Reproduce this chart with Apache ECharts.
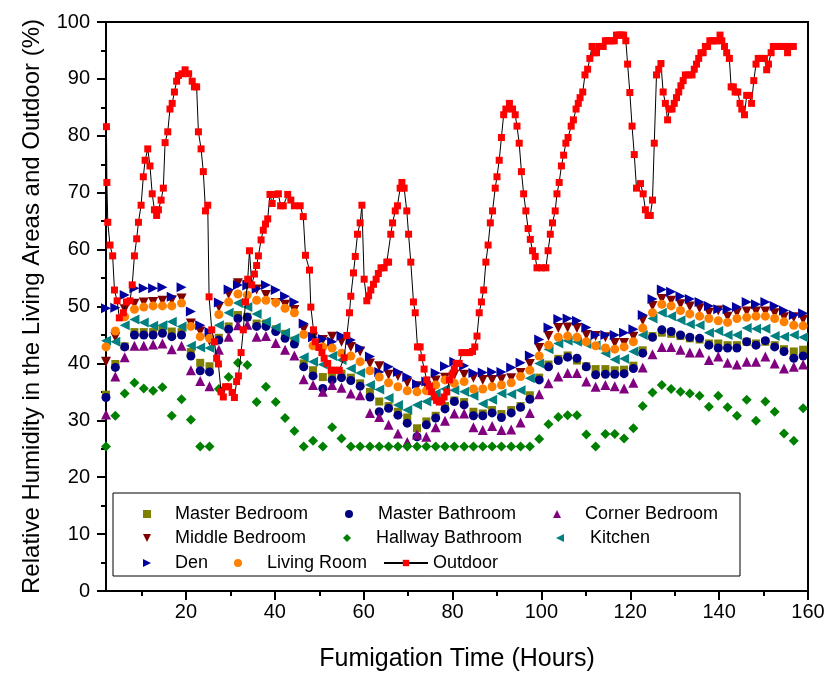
<!DOCTYPE html>
<html>
<head>
<meta charset="utf-8">
<script src="https://cdn.jsdelivr.net/npm/echarts@6/dist/echarts.min.js"></script>
<style>
  html, body { margin: 0; padding: 0; background: #fff; }
  #chart { width: 827px; height: 673px; }
</style>
</head>
<body>
<div id="chart"></div>
<script>
// indoor sensors, logged about every 2.1 h
const hours = [2.0,4.1,6.2,8.4,10.5,12.6,14.7,16.8,19.0,21.1,23.2,25.3,27.4,29.6,31.7,33.8,35.9,38.0,40.2,42.3,44.4,46.5,48.6,50.8,52.9,55.0,57.1,59.2,61.4,63.5,65.6,67.7,69.8,72.0,74.1,76.2,78.3,80.4,82.6,84.7,86.8,88.9,91.0,93.2,95.3,97.4,99.5,101.6,103.8,105.9,108.0,110.1,112.2,114.4,116.5,118.6,120.7,122.8,125.0,127.1,129.2,131.3,133.4,135.6,137.7,139.8,141.9,144.0,146.2,148.3,150.4,152.5,154.6,156.8,158.9];

const masterBedroom = [34.5,39.9,43,45.5,45.5,45.5,46,45.6,45.5,42, 40.1,39.5,44.5,46.5,48.5,48.2,47,47,46,45.2, 44,40,38.8,37.6,37.8,38.2,37.5,36.5,35,33.3, 32.5,31.5,30.5,28.6,29.8,30.8,32.5,33.5,33.2,31.5, 31.2,31.8,31.1,31.8,32.5,34.4,37.5,39.8,40.8,41.4, 40.5,39.5,39,39,38.8,38.9,39.6,42.3,44.8,45.4, 45.2,44.8,44.4,44.2,43.5,43.5,43.2,43.2,43.8,43.5, 43.8,43.2,42.5,42.1,42.4];
const masterBathroom = [34,39.3,42.9,45,45,45,45.3,44.7,45,41.3, 38.7,38.5,44.1,46,47.9,48.1,46.5,46.5,45.6,44.4, 43.4,39.4,37.8,35.6,37.1,37.5,37,36,34.1,31.5, 32.1,30.9,29.5,27.1,29.2,30.4,32,33.3,32.7,30.8, 30.8,31.3,30.5,31.3,32.3,33.7,37.1,39.4,40.5,41.1, 40.9,39.4,38,38.1,38.1,38.2,39.1,41.8,44.6,45.9, 45.6,45,44.6,44.4,43.2,42.7,42.7,42.7,43.8,43.2, 44,42.9,42.1,40.9,41.3];
const cornerBedroom = [31,37.7,41.1,43.1,43.1,43.3,43.5,42.5,43.1,38.8, 36.9,36,42.4,44.7,46.7,46.8,44.7,44.8,43.6,42.4, 41.4,37.2,36.2,35,36.2,35.7,34.7,34.4,31.3,30.6, 29.2,27.7,26.2,27.5,27.1,28.8,29.9,31.2,31.2,28.8, 28.3,29,28.3,28.4,29.6,31.3,34.6,36.5,37.7,38.3, 38.3,36.8,35.9,36.2,36,35.6,36.6,39.3,41.6,42.9, 42.9,42.4,41.9,41.9,40.6,41.2,40.1,39.8,40.3,40.3, 41.2,40,39.1,39.4,39.8];
const middleBedroom = [40.3,44.6,49.5,50.5,50.7,50.8,51,51.1,51.4,47, 45.6,44,49.9,52.2,54.1,53.8,53,52,50.6,50.3, 49.4,46,44.6,44.1,44.7,43.8,42.9,42.1,40,39.5, 38,37.8,36.6,36,36,37,37.5,38,38,37.5, 37.1,37.1,37.2,37.4,38.3,39.9,42.7,44.8,46.2,46.3, 46.2,45,44.8,44.6,43.6,43.6,44.7,47.6,50.1,51.3, 51,50.4,50,49.7,48.9,49.3,48.2,48.9,49.1,49.1, 49.1,48.8,48.1,48.1,47.7];
const hallwayBathroom = [25.4,30.8,34.7,36.6,35.6,35.2,35.8,30.8,33.7,30.1, 25.4,25.4,35.5,37.6,40.1,39.7,33.2,35.9,33.2,30.4, 28.1,25.4,26.4,25.4,28.8,26.8,25.4,25.4,25.4,25.4, 25.4,25.4,25.4,25.4,25.4,25.4,25.4,25.4,25.4,25.4, 25.4,25.4,25.4,25.4,25.4,25.4,26.7,29.3,30.6,30.9, 30.9,27.5,25.4,27.6,27.6,26.8,28.6,32.5,34.9,36.2, 35.5,35,34.7,34.3,32.4,34.3,32.3,30.8,33.6,29.9, 33.3,31.5,27.7,26.4,32.1];
const kitchen = [44,43.8,46.7,47.7,47.2,46.6,46.7,47.3,46.5,43.1, 42.8,42.7,46.7,48.9,50.6,49.9,48.7,47.3,46.3,45.4, 44.4,41.1,40.3,39.8,41.3,40.6,39.1,38.3,36.2,35.4, 33.9,32.7,31.8,32.7,33.3,34.7,35.5,35.3,35,34.3, 32.9,33.6,34.7,34.6,35.3,37.4,40,42.5,43.5,44, 43.8,43.4,43.2,41.8,40.7,40.8,42.1,45,47.9,48.9, 48.3,47.6,46.9,46.7,45.4,45.7,45,45,46.2,46.1, 46.1,44.8,44.7,45,44.6];
const den = [49.7,49.8,52,53.2,53.2,53.2,53.4,51.7,53.4,49.1, 46.7,45.5,50.7,53,53.8,53.7,53.1,53.8,52.9,51.8, 50.8,47,44.6,44.3,43.8,44.8,44.1,42.7,41.2,38.5, 39.4,38.5,37.6,36.4,36.8,38.3,39.5,40.3,39.6,38.3, 38.4,38.5,38.5,39.3,40.1,41.4,44.2,46.3,47.8,47.9, 47.5,46.3,45,45,45,45.4,46,48.5,51.3,53, 52.6,51.8,51.3,50.8,50.1,49.5,49.5,49.9,50.8,50.4, 50.8,50.1,49.3,48.5,48.8];
const livingRoom = [42.9,45.7,48.2,49.5,49.9,50.1,50.1,50.1,50.6,46.5, 44.7,44.4,48.6,50.8,52.2,52,51.1,51.1,50.7,49.7, 48.9,45.1,43.1,42.9,42.7,41.8,41.3,40.3,38.7,37.6, 36.6,35.9,35.2,35,35.2,36.2,37.1,36.5,36.8,35.5, 35.5,35.9,36.2,36.6,37.7,38.8,41.3,43.2,44.6,44.8, 44.6,43.8,43.1,42.7,42.5,42.9,43.8,46.2,48.9,50.4, 50.1,49.3,48.7,48.3,47.9,47.5,47.2,47.9,48.1,48.3, 48.3,47.9,47.3,46.7,46.6];

// outdoor station, denser logging
const outdoorHours = [2.1,2.2,2.4,2.9,3.5,3.9,4.5,5.0,5.9,6.6,7.4,7.9,8.4,8.9,9.3,9.9,10.4,10.8,11.4,11.9,12.4,12.9,13.4,13.8,14.4,14.9,15.3,15.9,16.4,16.9,17.4,17.9,18.3,19.1,19.8,20.6,21.4,21.9,22.4,22.8,23.4,23.9,24.4,24.9,25.2,25.8,26.4,26.9,27.3,27.9,28.4,28.9,29.6,30.4,30.9,31.4,31.8,32.4,32.9,33.4,33.9,34.3,34.8,35.4,35.9,36.3,36.9,37.4,37.9,38.4,38.9,39.4,39.9,40.8,41.3,41.9,42.9,43.6,44.4,45.7,46.4,46.9,47.8,48.1,48.7,49.1,49.9,50.6,51.1,51.9,52.7,53.6,54.5,55.6,56.2,56.8,57.1,57.7,58.1,58.6,59.2,59.6,60.1,60.7,61.1,61.6,62.2,62.8,63.3,63.9,64.6,65.2,65.6,66.1,66.5,67.1,67.6,68.2,68.6,69.1,69.7,70.1,70.6,71.2,71.6,72.1,72.7,73.1,73.6,74.2,74.8,75.3,75.9,76.4,77.0,77.6,78.1,78.7,79.3,79.9,80.4,80.8,81.5,82.1,83.0,83.8,84.5,85.0,85.5,86.0,86.5,87.0,87.5,88.0,88.5,89.0,89.6,90.0,90.5,91.0,91.5,92.0,92.8,93.5,94.1,94.5,95.0,95.5,96.0,96.5,97.0,97.5,98.0,98.6,99.0,100.0,101.0,101.5,102.0,102.5,103.1,103.5,104.0,104.5,105.0,105.5,106.0,106.7,107.2,107.8,108.3,108.7,109.3,109.8,110.4,110.9,111.4,111.9,112.4,112.9,113.4,113.9,114.4,114.9,115.4,115.9,116.4,116.9,117.5,118.0,118.5,119.0,119.4,119.9,120.4,120.9,121.4,122.3,122.9,123.4,124.0,124.5,125.0,125.4,125.9,126.4,126.9,127.4,127.9,128.4,128.8,129.4,129.9,130.4,130.9,131.4,131.9,132.4,133.1,133.9,134.4,134.9,135.4,135.9,136.4,136.9,137.4,137.9,138.4,138.9,139.4,140.2,140.6,141.2,141.7,142.3,142.7,143.2,143.6,144.2,144.7,145.1,145.7,146.2,146.8,147.3,147.8,148.3,148.8,149.4,150.2,150.7,151.1,151.7,152.2,152.8,153.5,154.3,154.9,155.4,156.0,156.7];
const outdoorRH = [81.6,71.8,64.8,60.8,58.9,52.9,51,48,48.9,50.8,51,53.8,58.9,61.9,64.8,67.8,72.8,75.7,77.7,74.7,69.8,67,66,67,68.7,70.8,78.8,80.7,84.7,85.7,87.7,89.6,90.6,90.9,91.6,90.9,89.6,88.6,88.6,80.7,77.7,73.7,66.8,67.8,51.7,45.9,43.8,40.9,39.9,35,34.1,35.9,35.9,34.9,34,36.8,37.8,41.9,45.9,50.8,54.8,59.8,53.8,55.7,57.2,58.9,61.7,63.4,64.5,65.4,69.7,68.1,69.7,69.8,67.7,67.7,69.7,68.7,67.7,67.7,65.8,59,56.4,49.9,45.9,43.8,42.8,41.9,40.9,40,38.8,38.8,38.8,41,44.9,48.9,51.8,55.9,58.8,62.7,64.7,67.8,54.8,51,51.9,52.9,53.9,54.8,55.8,56.8,56.8,57.8,57.8,62.7,64.7,66.8,67.7,70.8,71.8,70.8,66.8,62.7,57.8,50.8,48.9,42.9,42.9,41,39,37.1,36,35,34.1,33.5,33.2,33.5,34.1,35,37.1,38,39,40,40,41.9,41.9,41.9,42.1,42.9,44.8,48.9,50.8,52.9,57.8,60.8,64.7,66.8,70.8,72.8,75.7,79.7,83.7,84.7,85.7,84.7,83.7,81.7,78.7,73.7,69.8,66.8,63.7,61.8,59.8,58.8,56.8,56.8,56.8,59.8,62.7,64.7,66.8,69.8,71.8,74.7,76.6,78.7,79.7,81.7,82.8,84.7,85.7,86.7,87.7,90.7,91.7,93.6,95.7,94.6,94.6,95.7,95.7,95.7,96.7,96.7,96.7,96.7,96.7,97.7,97.7,97.7,97.7,96.7,92.6,87.6,81.7,76.7,70.8,71.6,69.8,67,66,66,68.7,78.7,90.7,91.7,92.7,87.7,85.7,82.8,84.7,84.7,85.7,86.7,87.7,88.8,89.7,90.7,90.7,90.7,91.7,92.6,93.6,94.6,94.6,95.7,95.7,96.7,96.7,96.7,96.7,97.7,96.7,95.7,94.6,93.6,88.6,88.6,87.7,87.7,85.7,84.7,83.7,87.1,87.1,85.7,89.7,92.6,93.6,93.6,93.6,91.6,92.6,94.6,95.7,95.7,95.7,95.7,95.7,94.6,95.7,95.7];

const majorX = [20, 40, 60, 80, 100, 120, 140, 160];
const minorX = [10, 30, 50, 70, 90, 110, 130, 150];

const FONT = 'Liberation Sans, Arial, sans-serif';

// legend glyphs for the rotated triangles
const TRI_DOWN = 'path://M0,0L10,0L5,10Z';
const TRI_RIGHT = 'path://M0,0L10,5L0,10Z';
const TRI_LEFT = 'path://M10,0L0,5L10,10Z';

function pairs(xs, ys) {
  return xs.map((x, i) => [x, ys[i]]);
}

function scatter(name, values, symbol, color, size, rotate) {
  return {
    name: name,
    type: 'scatter',
    data: pairs(hours, values),
    symbol: symbol,
    symbolSize: size,
    symbolRotate: rotate || 0,
    itemStyle: { color: color, opacity: 1 },
    emphasis: { disabled: true }
  };
}

// one legend per entry so each can sit where the original has it
function legendItem(name, icon, left, top, gap) {
  return {
    data: [{ name: name, icon: icon }],
    left: left,
    top: top,
    padding: 0,
    itemWidth: 8,
    itemHeight: 8,
    symbolKeepAspect: true,
    selectedMode: false,
    textStyle: { fontSize: 18, color: '#000', fontFamily: FONT, padding: [0, 0, 0, gap] }
  };
}

let chart = echarts.init(document.getElementById('chart'));

let option = {
  animation: false,
  backgroundColor: '#fff',
  textStyle: { fontFamily: FONT, color: '#000' },
  grid: {
    left: 106, right: 19, top: 22, bottom: 82,
    show: true, borderColor: '#000', borderWidth: 2,
    containLabel: false, outerBoundsMode: 'none'
  },
  xAxis: [
    {
      type: 'value', min: 2, max: 160,
      name: 'Fumigation Time (Hours)',
      nameLocation: 'middle', nameGap: 56,
      nameTextStyle: { fontSize: 25, color: '#000', fontFamily: FONT },
      axisLine: { show: true, onZero: false, lineStyle: { color: '#000', width: 2 } },
      axisTick: { show: true, length: 9, customValues: majorX, lineStyle: { color: '#000', width: 2 } },
      axisLabel: { customValues: majorX, fontSize: 20, color: '#000', margin: 11, fontFamily: FONT },
      splitLine: { show: false }
    },
    {
      // minor ticks only
      type: 'value', min: 2, max: 160, position: 'bottom',
      axisLine: { show: false },
      axisTick: { show: true, length: 5, customValues: minorX, lineStyle: { color: '#000', width: 2 } },
      axisLabel: { show: false },
      splitLine: { show: false }
    }
  ],
  yAxis: {
    type: 'value', min: 0, max: 100, interval: 10,
    name: 'Relative Humidity in the Living Areas and Outdoor (%)',
    nameLocation: 'middle', nameGap: 62,
    nameTextStyle: { fontSize: 24, color: '#000', fontFamily: FONT },
    axisLine: { show: true, onZero: false, lineStyle: { color: '#000', width: 2 } },
    axisTick: { show: true, length: 9, lineStyle: { color: '#000', width: 2 } },
    minorTick: { show: true, splitNumber: 2, length: 5, lineStyle: { color: '#000', width: 2 } },
    axisLabel: { fontSize: 20, color: '#000', margin: 16, fontFamily: FONT },
    splitLine: { show: false },
    minorSplitLine: { show: false }
  },
  legend: [
    legendItem('Master Bedroom', 'rect', 143, 505, 19),
    legendItem('Master Bathroom', 'circle', 345, 505, 20),
    legendItem('Corner Bedroom', 'triangle', 553, 505, 19),
    legendItem('Middle Bedroom', TRI_DOWN, 143, 529, 19),
    legendItem('Hallway Bathroom', 'diamond', 343, 529, 20),
    legendItem('Kitchen', TRI_LEFT, 556, 529, 21),
    legendItem('Den', TRI_RIGHT, 143, 554, 19),
    legendItem('Living Room', 'circle', 234, 554, 20),
    {
      data: ['Outdoor'],
      left: 383, top: 554, padding: 0,
      itemWidth: 44, itemHeight: 8,
      selectedMode: false,
      textStyle: { fontSize: 18, color: '#000', fontFamily: FONT }
    }
  ],
  graphic: [{
    type: 'rect',
    shape: { x: 113, y: 493, width: 627, height: 83 },
    style: { fill: 'none', stroke: '#000', lineWidth: 1 },
    z: 10
  }],
  series: [
    scatter('Master Bedroom', masterBedroom, 'rect', '#808000', 8),
    scatter('Master Bathroom', masterBathroom, 'circle', '#000080', 9),
    scatter('Corner Bedroom', cornerBedroom, 'triangle', '#800080', 10),
    scatter('Middle Bedroom', middleBedroom, 'triangle', '#800000', 10, 180),
    scatter('Hallway Bathroom', hallwayBathroom, 'diamond', '#008000', 10),
    scatter('Kitchen', kitchen, 'triangle', '#008080', 10, 90),
    scatter('Den', den, 'triangle', '#0000A0', 10, -90),
    scatter('Living Room', livingRoom, 'circle', '#FF8000', 9),
    {
      name: 'Outdoor',
      type: 'line',
      data: pairs(outdoorHours, outdoorRH),
      symbol: 'rect',
      symbolSize: 7,
      showSymbol: true,
      showAllSymbol: true,
      lineStyle: { color: '#000', width: 1 },
      itemStyle: { color: '#FF0000' },
      emphasis: { disabled: true },
      z: 5
    }
  ]
};

chart.setOption(option);
</script>
</body>
</html>
